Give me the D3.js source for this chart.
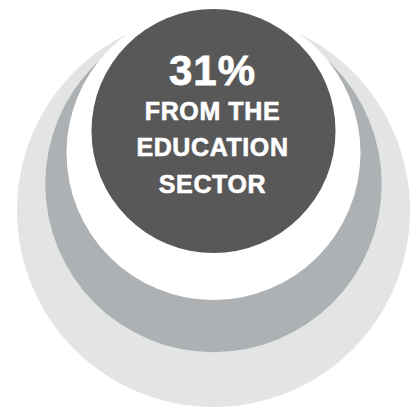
<!DOCTYPE html>
<html>
<head>
<meta charset="utf-8">
<script src="https://cdn.jsdelivr.net/npm/d3@7"></script>
<style>
  html, body { margin: 0; padding: 0; background: #ffffff; }
  svg { display: block; }
</style>
</head>
<body>
<svg id="chart" width="419" height="408"></svg>
<script>
// Nested circles (outer to inner), relative radius (% of outer) and vertical offset of centre
const rings = ["outer", "middle", "gap", "core"];
const ringSize = [100, 85.6, 74.8, 62.1];
const ringCenterY = [210.5, 184, 153, 131];
const ringColors = ["#e3e4e4", "#aeb1b3", "#ffffff", "#585858"];

const headline = "31%";
const labelLines = ["FROM THE", "EDUCATION", "SECTOR"];

const svg = d3.select("#chart");
const cx = 213.5;

const r = d3.scaleLinear().domain([0, 100]).range([0, 196.5]);
const y = d3.scaleLinear().domain([0, 408]).range([0, 408]);

svg.selectAll("circle.ring")
  .data(rings)
  .join("circle")
  .attr("class", "ring")
  .attr("cx", cx)
  .attr("cy", (d, i) => y(ringCenterY[i]))
  .attr("r", (d, i) => r(ringSize[i]))
  .attr("fill", (d, i) => ringColors[i]);

const tx = 212.5;
svg.append("text")
  .attr("x", tx)
  .attr("y", 84.5)
  .attr("text-anchor", "middle")
  .attr("fill", "#ffffff")
  .attr("stroke", "#ffffff")
  .attr("stroke-width", 0.8)
  .attr("font-family", "'Liberation Sans', Arial, sans-serif")
  .attr("font-weight", "bold")
  .attr("font-size", 42)
  .attr("letter-spacing", 1)
  .text(headline);

const baselines = [119.5, 155.5, 192.5];
svg.selectAll("text.label")
  .data(labelLines)
  .join("text")
  .attr("class", "label")
  .attr("x", tx)
  .attr("y", (d, i) => baselines[i])
  .attr("text-anchor", "middle")
  .attr("fill", "#ffffff")
  .attr("stroke", "#ffffff")
  .attr("stroke-width", 0.6)
  .attr("font-family", "'Liberation Sans', Arial, sans-serif")
  .attr("font-weight", "bold")
  .attr("font-size", 25)
  .attr("letter-spacing", 0.6)
  .text(d => d);
</script>
</body>
</html>
